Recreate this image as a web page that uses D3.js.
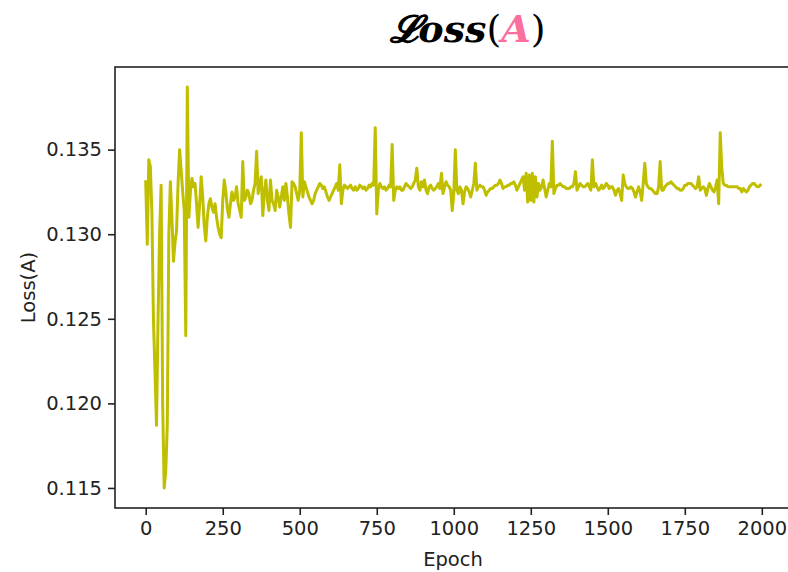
<!DOCTYPE html>
<html>
<head>
<meta charset="utf-8">
<script src="https://cdn.jsdelivr.net/npm/d3@7"></script>
<style>
  html, body { margin: 0; padding: 0; background: #fff; }
  svg { display: block; }
  text { font-family: "DejaVu Sans", sans-serif; fill: #222; }
</style>
</head>
<body>
<svg id="chart" width="788" height="572"></svg>
<script>
// Loss(A) recorded every 5 epochs, epochs 0 .. 1995
const epochStep = 5;
const lossA = [
  0.1331, 0.1294, 0.1344, 0.1340, 0.1313, 0.1250, 0.1219, 0.1187, 0.1250, 0.1300,
  0.1329, 0.1199, 0.1150, 0.1160, 0.1187, 0.1300, 0.1331, 0.1310, 0.1284, 0.1295,
  0.1302, 0.1330, 0.1350, 0.1338, 0.1325, 0.1314, 0.1240, 0.1387, 0.1310, 0.1325,
  0.1333, 0.1328, 0.1330, 0.1318, 0.1304, 0.1318, 0.1334, 0.1322, 0.1305, 0.1296,
  0.1310, 0.1318, 0.1321, 0.1316, 0.1313, 0.1318, 0.1310, 0.1304, 0.1300, 0.1298,
  0.1320, 0.1332, 0.1325, 0.1315, 0.1310, 0.1318, 0.1325, 0.1320, 0.1322, 0.1328,
  0.1318, 0.1314, 0.1310, 0.1343, 0.1320, 0.1322, 0.1326, 0.1324, 0.1318, 0.1320,
  0.1326, 0.1330, 0.1349, 0.1324, 0.1330, 0.1334, 0.1311, 0.1325, 0.1332, 0.1320,
  0.1314, 0.1332, 0.1320, 0.1318, 0.1314, 0.1326, 0.1322, 0.1316, 0.1322, 0.1328,
  0.1320, 0.1330, 0.1322, 0.1312, 0.1304, 0.1331, 0.1330, 0.1328, 0.1324, 0.1320,
  0.1326, 0.1360, 0.1322, 0.1331, 0.1328, 0.1325, 0.1322, 0.1320, 0.1318, 0.1320,
  0.1324, 0.1326, 0.1328, 0.1330, 0.1329, 0.1327, 0.1328, 0.1325, 0.1322, 0.1320,
  0.1322, 0.1324, 0.1326, 0.1328, 0.1330, 0.1326, 0.1341, 0.1318, 0.1326, 0.1329,
  0.1328, 0.1327, 0.1328, 0.1329, 0.1327, 0.1326, 0.1328, 0.1326, 0.1327, 0.1329,
  0.1328, 0.1327, 0.1328, 0.1326, 0.1327, 0.1329, 0.1328, 0.1330, 0.1329, 0.1363,
  0.1312, 0.1326, 0.1330, 0.1328, 0.1327, 0.1328, 0.1326, 0.1327, 0.1329, 0.1328,
  0.1353, 0.1320, 0.1326, 0.1328, 0.1327, 0.1328, 0.1326, 0.1326, 0.1328, 0.1330,
  0.1329, 0.1328, 0.1327, 0.1328, 0.1330, 0.1332, 0.1339, 0.1328, 0.1326, 0.1331,
  0.1328, 0.1332, 0.1326, 0.1324, 0.1328, 0.1329, 0.1327, 0.1326, 0.1327, 0.1328,
  0.1330, 0.1327, 0.1336, 0.1324, 0.1328, 0.1331, 0.1329, 0.1328, 0.1326, 0.1314,
  0.1324, 0.1350, 0.1326, 0.1324, 0.1328, 0.1326, 0.1318, 0.1325, 0.1328, 0.1327,
  0.1325, 0.1322, 0.1326, 0.1330, 0.1342, 0.1326, 0.1328, 0.1329, 0.1328, 0.1328,
  0.1326, 0.1323, 0.1325, 0.1326, 0.1327, 0.1327, 0.1328, 0.1329, 0.1329, 0.1330,
  0.1332, 0.1330, 0.1327, 0.1328, 0.1328, 0.1329, 0.1329, 0.1330, 0.1330, 0.1331,
  0.1329, 0.1326, 0.1328, 0.1330, 0.1332, 0.1334, 0.1326, 0.1336, 0.1319, 0.1335,
  0.1320, 0.1336, 0.1319, 0.1334, 0.1322, 0.1330, 0.1326, 0.1328, 0.1332, 0.1327,
  0.1322, 0.1326, 0.1330, 0.1328, 0.1355, 0.1324, 0.1327, 0.1329, 0.1329, 0.1330,
  0.1329, 0.1328, 0.1328, 0.1327, 0.1327, 0.1327, 0.1328, 0.1328, 0.1330, 0.1337,
  0.1326, 0.1328, 0.1330, 0.1329, 0.1328, 0.1328, 0.1329, 0.1330, 0.1328, 0.1326,
  0.1344, 0.1328, 0.1330, 0.1328, 0.1326, 0.1327, 0.1329, 0.1327, 0.1328, 0.1330,
  0.1329, 0.1327, 0.1328, 0.1328, 0.1326, 0.1323, 0.1326, 0.1327, 0.1324, 0.1320,
  0.1335, 0.1330, 0.1328, 0.1327, 0.1327, 0.1328, 0.1327, 0.1325, 0.1322, 0.1325,
  0.1328, 0.1325, 0.1320, 0.1330, 0.1342, 0.1330, 0.1328, 0.1327, 0.1327, 0.1326,
  0.1325, 0.1324, 0.1324, 0.1328, 0.1343, 0.1326, 0.1326, 0.1328, 0.1329, 0.1330,
  0.1330, 0.1331, 0.1330, 0.1329, 0.1328, 0.1327, 0.1327, 0.1326, 0.1326, 0.1327,
  0.1329, 0.1329, 0.1330, 0.1330, 0.1330, 0.1329, 0.1328, 0.1327, 0.1328, 0.1334,
  0.1326, 0.1327, 0.1328, 0.1327, 0.1323, 0.1327, 0.1330, 0.1328, 0.1326, 0.1325,
  0.1328, 0.1332, 0.1318, 0.1360, 0.1339, 0.1330, 0.1329, 0.1329, 0.1328, 0.1328,
  0.1328, 0.1328, 0.1328, 0.1328, 0.1328, 0.1327, 0.1327, 0.1325, 0.1327, 0.1326,
  0.1325, 0.1326, 0.1328, 0.1329, 0.1330, 0.1330, 0.1329, 0.1328, 0.1328, 0.1329
];
const xTicks = [0, 250, 500, 750, 1000, 1250, 1500, 1750, 2000];
const yTicks = [0.115, 0.120, 0.125, 0.130, 0.135];
const xLabel = "Epoch";
const yLabel = "Loss(A)";

const points = lossA.map((v, i) => ({ epoch: i * epochStep, loss: v }));

const svg = d3.select("#chart");
const plot = { left: 115, top: 67, right: 791, bottom: 508 };

// 5% padding around the data range on both axes
const xExtent = d3.extent(points, d => d.epoch);
const yExtent = d3.extent(points, d => d.loss);
const xPad = (xExtent[1] - xExtent[0]) * 0.05;
const yPad = (yExtent[1] - yExtent[0]) * 0.05;

const x = d3.scaleLinear()
  .domain([xExtent[0] - xPad, xExtent[1] + xPad])
  .range([plot.left, plot.right]);
const y = d3.scaleLinear()
  .domain([yExtent[0] - yPad, yExtent[1] + yPad])
  .range([plot.bottom, plot.top]);

// loss curve
const line = d3.line().x(d => x(d.epoch)).y(d => y(d.loss));
svg.append("path")
  .datum(points)
  .attr("d", line)
  .attr("fill", "none")
  .attr("stroke", "#bfbf00")
  .attr("stroke-width", 3)
  .attr("stroke-linejoin", "round")
  .attr("stroke-linecap", "square");

// axes
const xAxis = svg.append("g")
  .attr("transform", `translate(0,${plot.bottom})`)
  .call(d3.axisBottom(x).tickValues(xTicks).tickSize(7).tickPadding(6).tickFormat(d3.format("d")));
const yAxis = svg.append("g")
  .attr("transform", `translate(${plot.left},0)`)
  .call(d3.axisLeft(y).tickValues(yTicks).tickSize(7).tickPadding(6).tickFormat(d3.format(".3f")));

[xAxis, yAxis].forEach(g => {
  g.select(".domain").remove();
  g.selectAll(".tick line").attr("stroke", "#222").attr("stroke-width", 1.6);
  g.selectAll(".tick text")
    .attr("font-family", "DejaVu Sans, sans-serif")
    .attr("font-size", 19.5)
    .attr("fill", "#222");
});

// frame
svg.append("rect")
  .attr("x", plot.left).attr("y", plot.top)
  .attr("width", plot.right - plot.left).attr("height", plot.bottom - plot.top)
  .attr("fill", "none").attr("stroke", "#222").attr("stroke-width", 1.6);

// axis labels
svg.append("text")
  .attr("x", (plot.left + plot.right) / 2).attr("y", 566)
  .attr("text-anchor", "middle").attr("font-size", 19.5)
  .text(xLabel);
svg.append("text")
  .attr("transform", `translate(35,${(plot.top + plot.bottom) / 2}) rotate(-90)`)
  .attr("text-anchor", "middle").attr("font-size", 19.5)
  .text(yLabel);

// title
const title = svg.append("text")
  .attr("x", 468).attr("y", 42)
  .attr("text-anchor", "middle")
  .style("font-family", "'DejaVu Serif', 'Liberation Serif', serif")
  .style("font-size", "38px")
  .style("font-weight", "bold")
  .style("font-style", "italic")
  .style("fill", "#000");
title.append("tspan").text("\u{1D4DB}oss");
title.append("tspan").style("font-weight", "normal").style("font-style", "normal").text("(");
title.append("tspan").style("fill", "#fb6f9f").text("A");
title.append("tspan").style("font-weight", "normal").style("font-style", "normal").text(")");
</script>
</body>
</html>
